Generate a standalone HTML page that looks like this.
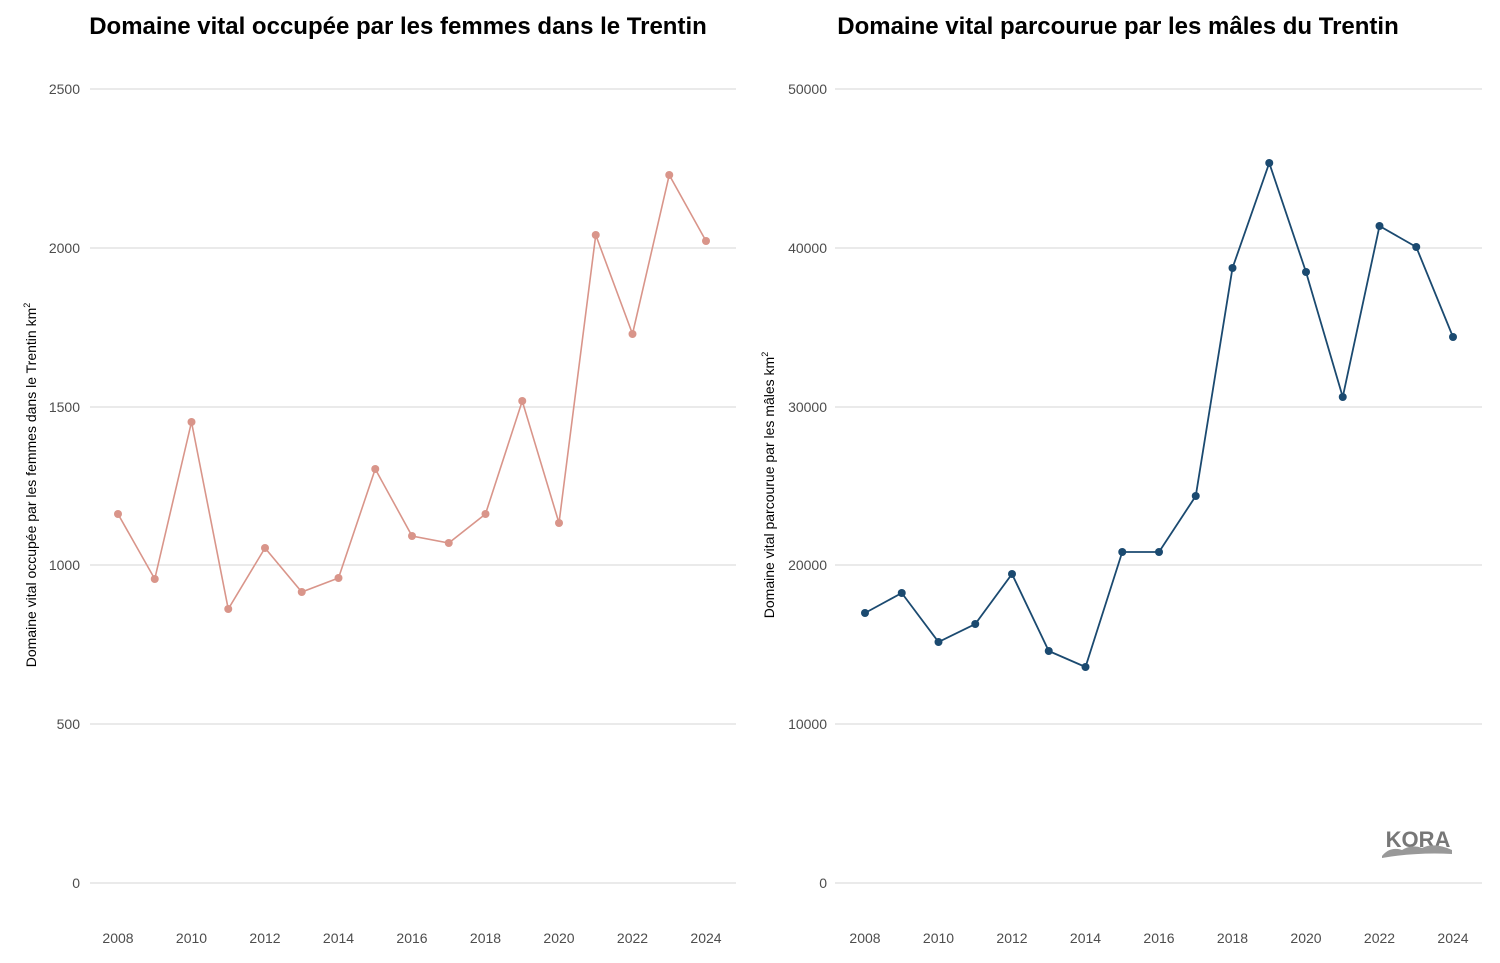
<!DOCTYPE html>
<html><head><meta charset="utf-8"><style>
body{margin:0;background:#fff}
svg{display:block;font-family:"Liberation Sans",Arial,sans-serif}
</style></head><body>
<svg width="1500" height="963" viewBox="0 0 1500 963">
<rect width="1500" height="963" fill="#fff"/>
<g stroke="#d4d4d4" stroke-width="1">
<line x1="90" x2="736" y1="89" y2="89"/><line x1="90" x2="736" y1="248" y2="248"/><line x1="90" x2="736" y1="407" y2="407"/><line x1="90" x2="736" y1="565" y2="565"/><line x1="90" x2="736" y1="724" y2="724"/><line x1="90" x2="736" y1="883" y2="883"/>
<line x1="835" x2="1482" y1="89" y2="89"/><line x1="835" x2="1482" y1="248" y2="248"/><line x1="835" x2="1482" y1="407" y2="407"/><line x1="835" x2="1482" y1="565" y2="565"/><line x1="835" x2="1482" y1="724" y2="724"/><line x1="835" x2="1482" y1="883" y2="883"/>
</g>
<g font-size="14" fill="#4d4d4d" text-anchor="end">
<text x="80" y="94">2500</text><text x="80" y="253">2000</text><text x="80" y="412">1500</text><text x="80" y="570">1000</text><text x="80" y="729">500</text><text x="80" y="888">0</text>
<text x="827" y="94">50000</text><text x="827" y="253">40000</text><text x="827" y="412">30000</text><text x="827" y="570">20000</text><text x="827" y="729">10000</text><text x="827" y="888">0</text>
</g>
<g font-size="14" fill="#4d4d4d" text-anchor="middle">
<text x="118" y="943">2008</text><text x="191.5" y="943">2010</text><text x="265" y="943">2012</text><text x="338.5" y="943">2014</text><text x="412" y="943">2016</text><text x="485.5" y="943">2018</text><text x="559" y="943">2020</text><text x="632.5" y="943">2022</text><text x="706" y="943">2024</text>
<text x="865" y="943">2008</text><text x="938.5" y="943">2010</text><text x="1012" y="943">2012</text><text x="1085.5" y="943">2014</text><text x="1159" y="943">2016</text><text x="1232.5" y="943">2018</text><text x="1306" y="943">2020</text><text x="1379.5" y="943">2022</text><text x="1453" y="943">2024</text>
</g>
<text x="398" y="34" font-size="24" font-weight="bold" text-anchor="middle" fill="#000">Domaine vital occupée par les femmes dans le Trentin</text>
<text x="1118" y="34" font-size="24" font-weight="bold" text-anchor="middle" fill="#000">Domaine vital parcourue par les mâles du Trentin</text>
<text transform="translate(36,485) rotate(-90)" font-size="14" text-anchor="middle" fill="#000">Domaine vital occupée par les femmes dans le Trentin km<tspan font-size="9" dy="-6">2</tspan></text>
<text transform="translate(774,485) rotate(-90)" font-size="14" text-anchor="middle" fill="#000">Domaine vital parcourue par les mâles km<tspan font-size="9" dy="-6">2</tspan></text>
<g fill="#d9958a" stroke="#d9958a">
<polyline fill="none" stroke-width="1.6" points="118,514 154.75,579 191.5,422 228.25,609 265,548 301.75,592 338.5,578 375.25,469 412,536 448.75,543 485.5,514 522.25,401 559,523 595.75,235 632.5,334 669.25,175 706,241"/>
<g stroke="none"><circle cx="118" cy="514" r="4"/><circle cx="154.75" cy="579" r="4"/><circle cx="191.5" cy="422" r="4"/><circle cx="228.25" cy="609" r="4"/><circle cx="265" cy="548" r="4"/><circle cx="301.75" cy="592" r="4"/><circle cx="338.5" cy="578" r="4"/><circle cx="375.25" cy="469" r="4"/><circle cx="412" cy="536" r="4"/><circle cx="448.75" cy="543" r="4"/><circle cx="485.5" cy="514" r="4"/><circle cx="522.25" cy="401" r="4"/><circle cx="559" cy="523" r="4"/><circle cx="595.75" cy="235" r="4"/><circle cx="632.5" cy="334" r="4"/><circle cx="669.25" cy="175" r="4"/><circle cx="706" cy="241" r="4"/></g>
</g>
<g fill="#1b4a70" stroke="#1b4a70">
<polyline fill="none" stroke-width="1.8" points="865,613 901.75,593 938.5,642 975.25,624 1012,574 1048.75,651 1085.5,667 1122.25,552 1159,552 1195.75,496 1232.5,268 1269.25,163 1306,272 1342.75,397 1379.5,226 1416.25,247 1453,337"/>
<g stroke="none"><circle cx="865" cy="613" r="4"/><circle cx="901.75" cy="593" r="4"/><circle cx="938.5" cy="642" r="4"/><circle cx="975.25" cy="624" r="4"/><circle cx="1012" cy="574" r="4"/><circle cx="1048.75" cy="651" r="4"/><circle cx="1085.5" cy="667" r="4"/><circle cx="1122.25" cy="552" r="4"/><circle cx="1159" cy="552" r="4"/><circle cx="1195.75" cy="496" r="4"/><circle cx="1232.5" cy="268" r="4"/><circle cx="1269.25" cy="163" r="4"/><circle cx="1306" cy="272" r="4"/><circle cx="1342.75" cy="397" r="4"/><circle cx="1379.5" cy="226" r="4"/><circle cx="1416.25" cy="247" r="4"/><circle cx="1453" cy="337" r="4"/></g>
</g>
<text x="1418" y="847" font-size="22" font-weight="bold" fill="#777" text-anchor="middle">KORA</text>
<path d="M1382 856 q8 -10 20 -6 q10 -6 20 -2 q12 -6 30 2 l0 4 q-35 -2 -70 4z" fill="#999"/>
</svg>
</body></html>
